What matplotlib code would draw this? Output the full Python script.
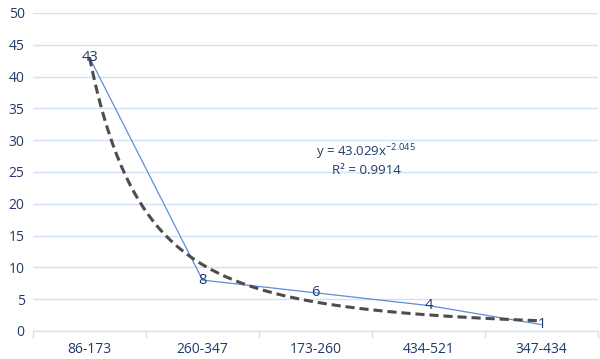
import numpy as np
import matplotlib.pyplot as plt

# Дані графіка
categories = ['86-173', '260-347', '173-260', '434-521', '347-434']
values = [43, 8, 6, 4, 1]

# Параметри степеневої лінії тренду (з рівняння на графіку)
coef_a = 43.029
coef_b = -2.045
r2 = 0.9914

label_col = '#1F3A6B'
grid_col = '#D3E1F4'

plt.rcParams['font.family'] = ['Open Sans', 'DejaVu Sans']

fig = plt.figure(figsize=(6, 3.59), dpi=100)
ax = fig.add_axes([0.055, 0.078, 0.942, 0.886])

x = np.arange(len(categories))

# Основна лінія даних
ax.plot(x, values, color='#5B8FD6', linewidth=0.9, zorder=3)

# Лінія тренду y = a * x^b, x = 1..n
xt = np.linspace(1, len(categories), 200)
yt = coef_a * xt ** coef_b
ax.plot(xt - 1, yt, color='#4D4D4D', linewidth=2.2, linestyle=(0, (3, 1.6)), zorder=4)

# Підписи значень
for xi, v in zip(x, values):
    ax.text(xi, v, str(v), ha='center', va='center', color=label_col,
            fontsize=10.5, zorder=5)

# Рівняння тренду
ax.text(2.45, 28.1, 'y = 43.029x$^{\\mathregular{-2.045}}$', ha='center', va='center',
        color=label_col, fontsize=9.5)
ax.text(2.45, 25.3, 'R² = 0.9914', ha='center', va='center',
        color=label_col, fontsize=9.5)

ax.set_xlim(-0.5, len(categories) - 0.5)
ax.set_ylim(0, 50)
ax.set_yticks(range(0, 51, 5))
ax.set_xticks(x)
ax.set_xticklabels(categories)
ax.tick_params(axis='x', length=0, colors=label_col, labelsize=10, pad=8)
ax.tick_params(axis='y', length=0, colors=label_col, labelsize=10, pad=6)

# Роздільники категорій на осі X
ax.set_xticks(np.arange(-0.5, len(categories) + 0.5, 1), minor=True)
ax.tick_params(axis='x', which='minor', length=5, color=grid_col, width=1)

ax.grid(axis='y', color=grid_col, linewidth=1)
ax.set_axisbelow(True)
for s in ['top', 'right', 'left']:
    ax.spines[s].set_visible(False)
ax.spines['bottom'].set_color(grid_col)
ax.spines['bottom'].set_linewidth(1)

fig.savefig('out.png', dpi=100)
